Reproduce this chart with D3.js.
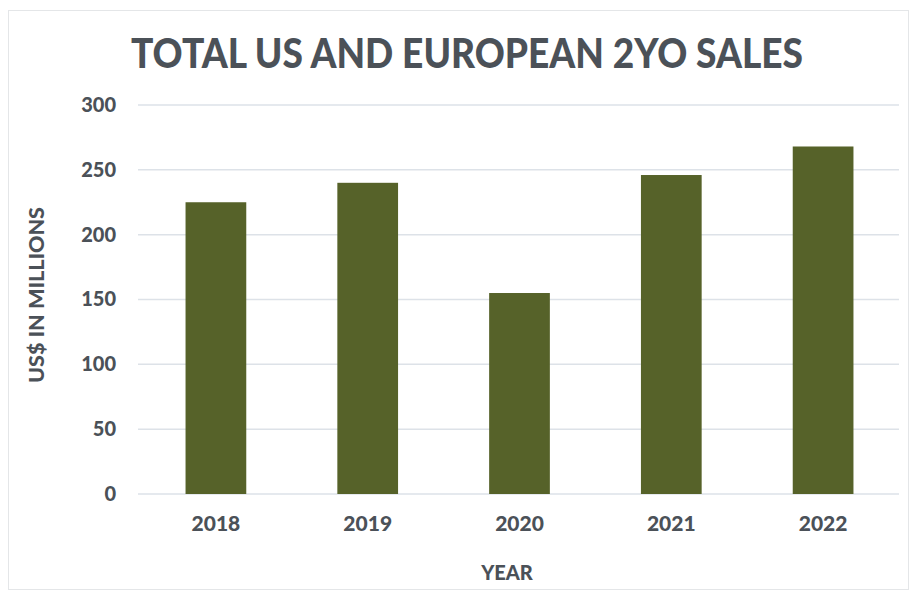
<!DOCTYPE html>
<html>
<head>
<meta charset="utf-8">
<script src="https://cdn.jsdelivr.net/npm/d3@7"></script>
<style>
  body { margin: 0; background: #fff; }
  text { font-family: Lato, "Noto Sans", sans-serif; font-weight: 900; fill: #4b5158; }
</style>
</head>
<body>
<div id="chart"></div>
<script>
// data
var years = ["2018", "2019", "2020", "2021", "2022"];
var sales = [225, 240, 155, 246, 268];
var yTicks = [0, 50, 100, 150, 200, 250, 300];

var width = 912, height = 598;
var margin = { top: 105, right: 13, bottom: 104, left: 140 };

var svg = d3.select("#chart").append("svg")
    .attr("width", width)
    .attr("height", height);

// light frame round the chart
svg.append("rect")
    .attr("x", 8.5).attr("y", 10.5)
    .attr("width", 900).attr("height", 579)
    .attr("fill", "#fff")
    .attr("stroke", "#e4e6e8");

var x = d3.scaleBand()
    .domain(years)
    .range([margin.left, width - margin.right])
    .paddingInner(0.6)
    .paddingOuter(0.3);

var y = d3.scaleLinear()
    .domain([0, 300])
    .range([height - margin.bottom, margin.top]);

// gridlines
svg.append("g")
    .selectAll("line")
    .data(yTicks)
    .enter().append("line")
    .attr("x1", margin.left - 2)
    .attr("x2", width - margin.right)
    .attr("y1", function (d) { return y(d); })
    .attr("y2", function (d) { return y(d); })
    .attr("stroke", "#dde2e8")
    .attr("stroke-width", 1.5);

// y axis labels
var yAxis = svg.append("g")
    .attr("transform", "translate(" + (margin.left - 24) + ",0)")
    .call(d3.axisLeft(y).tickValues(yTicks).tickSize(0).tickPadding(0));
yAxis.select(".domain").remove();
yAxis.selectAll("text").attr("font-size", 20).style("font-family", null);

// bars
svg.append("g")
    .selectAll("rect")
    .data(sales)
    .enter().append("rect")
    .attr("x", function (d, i) { return x(years[i]); })
    .attr("width", x.bandwidth())
    .attr("y", function (d) { return y(d); })
    .attr("height", function (d) { return y(0) - y(d); })
    .attr("fill", "#566229");

// x axis labels
var xAxis = svg.append("g")
    .attr("transform", "translate(0," + (y(0) + 22) + ")")
    .call(d3.axisBottom(x).tickSize(0).tickPadding(0));
xAxis.select(".domain").remove();
xAxis.selectAll("text").attr("font-size", 21).style("font-family", null);

// title
svg.append("text")
    .attr("x", 467)
    .attr("y", 68)
    .attr("text-anchor", "middle")
    .attr("font-size", 41)
    .attr("textLength", 672)
    .attr("lengthAdjust", "spacingAndGlyphs")
    .text("TOTAL US AND EUROPEAN 2YO SALES");

// axis titles
svg.append("text")
    .attr("transform", "translate(44,295) rotate(-90)")
    .attr("text-anchor", "middle")
    .attr("font-size", 20)
    .attr("textLength", 176)
    .attr("lengthAdjust", "spacingAndGlyphs")
    .text("US$ IN MILLIONS");

svg.append("text")
    .attr("x", 507)
    .attr("y", 580)
    .attr("text-anchor", "middle")
    .attr("font-size", 20)
    .text("YEAR");
</script>
</body>
</html>
